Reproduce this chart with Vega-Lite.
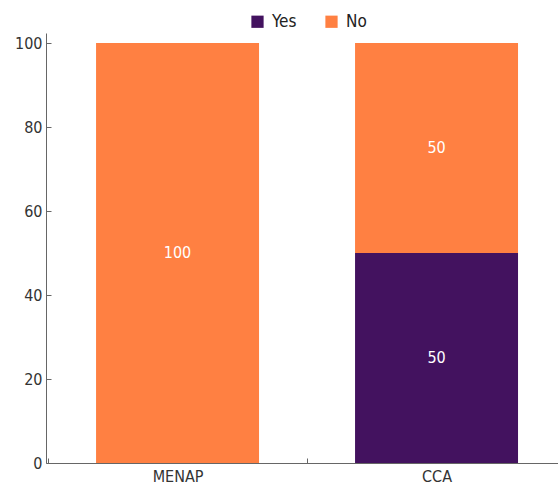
{
  "$schema": "https://vega.github.io/schema/vega-lite/v6.json",
  "width": 512,
  "height": 430,
  "autosize": {"type": "none"},
  "padding": {"left": 46, "top": 33, "right": 0, "bottom": 26},
  "config": {
    "font": "DejaVu Sans Condensed, Roboto, sans-serif",
    "view": {"stroke": null},
    "axis": {"labelFont": "DejaVu Sans Condensed, Roboto, sans-serif", "labelFontSize": 16, "labelColor": "#333333", "domainColor": "#666666", "tickColor": "#666666", "grid": false, "title": null}
  },
  "data": {
    "values": [
      {"region": "MENAP", "answer": "Yes", "value": 0},
      {"region": "MENAP", "answer": "No", "value": 100},
      {"region": "CCA", "answer": "Yes", "value": 50},
      {"region": "CCA", "answer": "No", "value": 50}
    ]
  },
  "transform": [
    {"stack": "value", "groupby": ["region"], "sort": [{"field": "answer", "order": "descending"}], "as": ["v0", "v1"]},
    {"calculate": "(datum.v0 + datum.v1) / 2", "as": "mid"}
  ],
  "encoding": {
    "x": {
      "field": "region", "type": "nominal", "sort": ["MENAP", "CCA"],
      "scale": {"paddingInner": 0.3707, "paddingOuter": 0.1738, "align": 0.556},
      "axis": {"labelAngle": 0, "tickSize": -5, "tickOffset": -129.5, "labelOffset": 129.5, "labelPadding": 10}
    }
  },
  "layer": [
    {
      "mark": {"type": "bar"},
      "encoding": {
        "y": {"field": "v0", "type": "quantitative", "scale": {"domain": [0, 102.4], "nice": false, "zero": true},
          "axis": {"values": [0, 20, 40, 60, 80, 100], "tickSize": -5, "labelPadding": 9}},
        "y2": {"field": "v1"},
        "color": {
          "field": "answer", "type": "nominal",
          "scale": {"domain": ["Yes", "No"], "range": ["#43125F", "#FF8042"]},
          "legend": {"title": null, "orient": "none", "direction": "horizontal", "legendX": 203, "legendY": -20,
            "symbolType": "square", "symbolSize": 150, "symbolStrokeWidth": 0, "labelFontSize": 17, "labelFont": "DejaVu Sans Condensed, Roboto, sans-serif", "labelColor": "#222222", "columnPadding": 26, "labelOffset": 6}
        }
      }
    },
    {
      "transform": [{"filter": "datum.value > 0"}],
      "mark": {"type": "text", "color": "white", "fontSize": 16, "font": "DejaVu Sans Condensed, Roboto, sans-serif", "baseline": "middle"},
      "encoding": {
        "y": {"field": "mid", "type": "quantitative"},
        "text": {"field": "value", "type": "quantitative"}
      }
    }
  ]
}
